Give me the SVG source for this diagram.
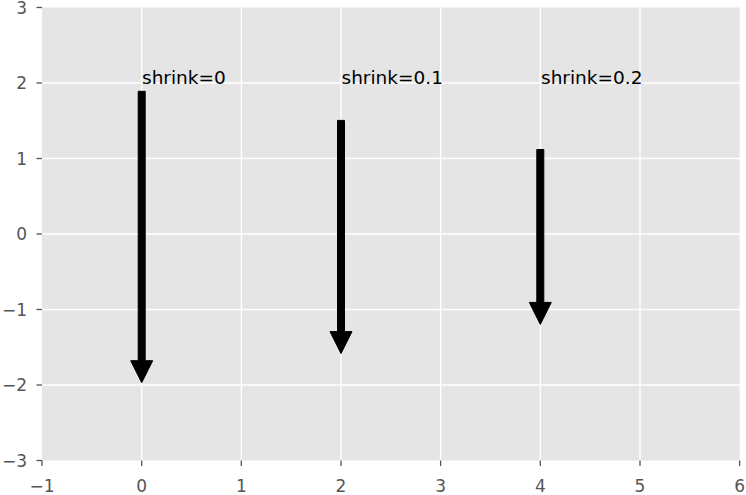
<svg xmlns="http://www.w3.org/2000/svg" width="746" height="495" viewBox="0 0 746 495">
<style>
.grid{stroke:#ffffff;stroke-width:1.4;fill:none}
.tick{stroke:#555555;stroke-width:1.3}
.tl{font-family:"DejaVu Sans",sans-serif;font-size:17px;fill:#555555}
.ann{font-family:"DejaVu Sans",sans-serif;font-size:18.5px;fill:#000000}
.arrow{fill:#000000;stroke:#000000;stroke-width:1}
</style>
<rect x="42" y="7.5" width="697.6" height="453" fill="#E5E5E5"/>
<g id="grid">
<line class="grid" x1="42" y1="83" x2="739.6" y2="83"/>
<line class="grid" x1="42" y1="158.5" x2="739.6" y2="158.5"/>
<line class="grid" x1="42" y1="234" x2="739.6" y2="234"/>
<line class="grid" x1="42" y1="309.5" x2="739.6" y2="309.5"/>
<line class="grid" x1="42" y1="385" x2="739.6" y2="385"/>
<line class="grid" x1="141.7" y1="7.5" x2="141.7" y2="460.5"/>
<line class="grid" x1="241.3" y1="7.5" x2="241.3" y2="460.5"/>
<line class="grid" x1="341" y1="7.5" x2="341" y2="460.5"/>
<line class="grid" x1="440.6" y1="7.5" x2="440.6" y2="460.5"/>
<line class="grid" x1="540.3" y1="7.5" x2="540.3" y2="460.5"/>
<line class="grid" x1="640" y1="7.5" x2="640" y2="460.5"/>
</g>
<g id="ticks">
<line class="tick" x1="36.5" y1="7.5" x2="42" y2="7.5"/>
<line class="tick" x1="36.5" y1="83" x2="42" y2="83"/>
<line class="tick" x1="36.5" y1="158.5" x2="42" y2="158.5"/>
<line class="tick" x1="36.5" y1="234" x2="42" y2="234"/>
<line class="tick" x1="36.5" y1="309.5" x2="42" y2="309.5"/>
<line class="tick" x1="36.5" y1="385" x2="42" y2="385"/>
<line class="tick" x1="36.5" y1="460.5" x2="42" y2="460.5"/>
<line class="tick" x1="42" y1="460.5" x2="42" y2="466"/>
<line class="tick" x1="141.7" y1="460.5" x2="141.7" y2="466"/>
<line class="tick" x1="241.3" y1="460.5" x2="241.3" y2="466"/>
<line class="tick" x1="341" y1="460.5" x2="341" y2="466"/>
<line class="tick" x1="440.6" y1="460.5" x2="440.6" y2="466"/>
<line class="tick" x1="540.3" y1="460.5" x2="540.3" y2="466"/>
<line class="tick" x1="640" y1="460.5" x2="640" y2="466"/>
<line class="tick" x1="739.6" y1="460.5" x2="739.6" y2="466"/>
</g>
<g id="ylabels" text-anchor="end">
<text class="tl" x="27" y="13.7">3</text>
<text class="tl" x="27" y="89.2">2</text>
<text class="tl" x="27" y="164.7">1</text>
<text class="tl" x="27" y="240.2">0</text>
<text class="tl" x="27" y="315.7">−1</text>
<text class="tl" x="27" y="391.2">−2</text>
<text class="tl" x="27" y="466.7">−3</text>
</g>
<g id="xlabels" text-anchor="middle">
<text class="tl" x="42" y="491.5">−1</text>
<text class="tl" x="141.7" y="491.5">0</text>
<text class="tl" x="241.3" y="491.5">1</text>
<text class="tl" x="341" y="491.5">2</text>
<text class="tl" x="440.6" y="491.5">3</text>
<text class="tl" x="540.3" y="491.5">4</text>
<text class="tl" x="640" y="491.5">5</text>
<text class="tl" x="739.6" y="491.5">6</text>
</g>
<g id="connectors">
<path class="arrow" d="M138.2,91.3 H145.2 V360.7 H152.7 L141.7,382.7 L130.7,360.7 H138.2 Z"/>
<path class="arrow" d="M337.5,120.4 H344.5 V331.6 H352 L341,353.6 L330,331.6 H337.5 Z"/>
<path class="arrow" d="M536.8,149.5 H543.8 V302.4 H551.3 L540.3,324.4 L529.3,302.4 H536.8 Z"/>
</g>
<g id="label0"><text class="ann" x="142" y="83.5">shrink=0</text></g>
<g id="label1"><text class="ann" x="341.5" y="83.5">shrink=0.1</text></g>
<g id="label2"><text class="ann" x="541" y="83.5">shrink=0.2</text></g>
</svg>
